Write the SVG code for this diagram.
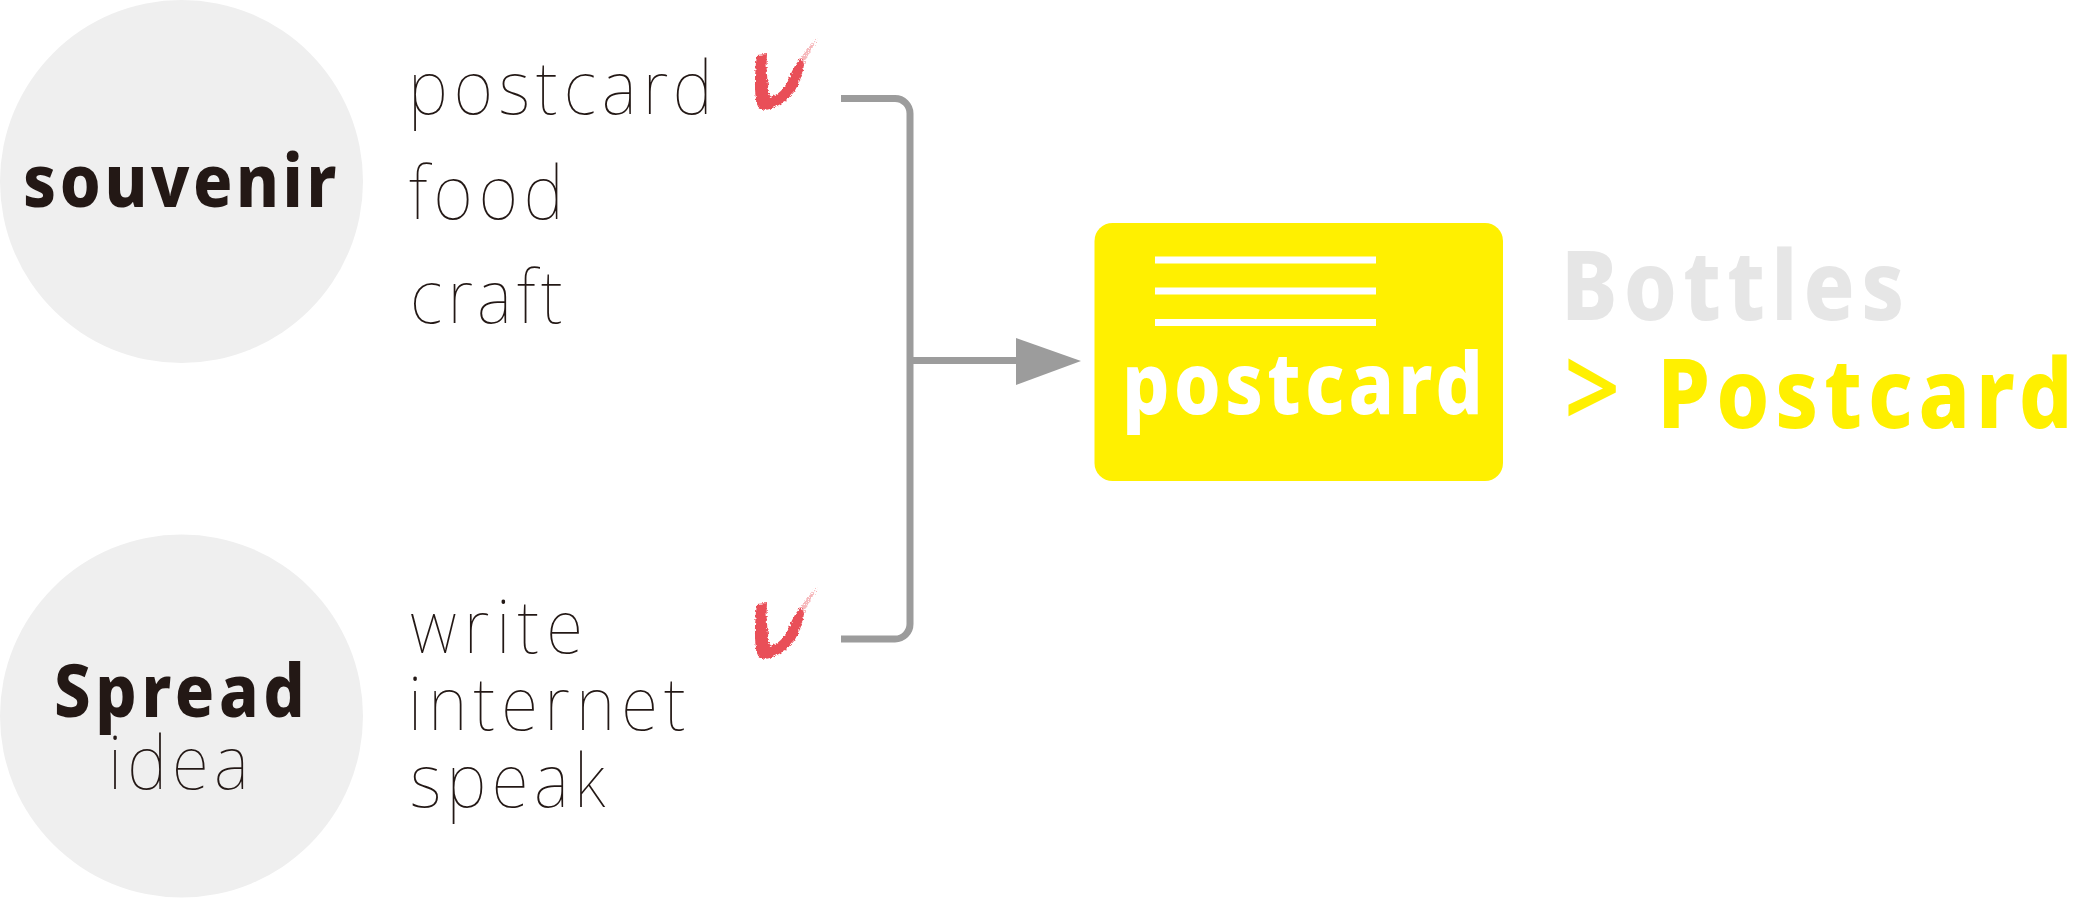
<svg xmlns="http://www.w3.org/2000/svg" width="2082" height="898" viewBox="0 0 2082 898">
<style>
.c{fill:#efefef}
text{font-family:"Noto Sans","Open Sans","Liberation Sans",sans-serif}
.l{font-size:74px;font-weight:100;fill:#231815}
.b{font-size:74px;font-weight:800;fill:#231815}
.h{font-size:96px;font-weight:800}
.w{fill:#fff}
.conn{fill:none;stroke:#9c9c9c;stroke-width:7}
</style>
<defs>
<filter id="rough" x="-20%" y="-20%" width="140%" height="140%">
<feTurbulence type="fractalNoise" baseFrequency="0.4" numOctaves="2" seed="4"/>
<feDisplacementMap in="SourceGraphic" scale="4" xChannelSelector="R" yChannelSelector="G"/>
</filter>
<filter id="dry" x="-30%" y="-30%" width="160%" height="160%">
<feTurbulence type="fractalNoise" baseFrequency="0.6" numOctaves="2" seed="7"/>
<feDisplacementMap in="SourceGraphic" scale="8" xChannelSelector="R" yChannelSelector="G"/>
</filter>
<g id="tick">
<path d="M757 55 L767 54 C766 68 767 84 770 97 C778 95 784 89 788 81 C791 73 795 64 801 58 L804 64 C803 74 799 84 794 92 C787 101 776 108 766 110 C760 110 757 107 756 100 C754 85 755 70 757 55Z" fill="#e94f58" filter="url(#rough)"/>
<path d="M801 58 C806 50 812 43 818 38 C813 46 808 54 804 64Z" fill="#e94f58" opacity=".4" filter="url(#dry)"/>
</g>
</defs>
<g id="node-souvenir">
<circle class="c" cx="181.500" cy="181.500" r="181.500"/>
<text class="b" transform="translate(23 207) scale(.88 1)" textLength="356">souvenir</text>
</g>
<g id="node-spread">
<circle class="c" cx="181.500" cy="716" r="181.500"/>
<text class="b" transform="translate(54 717) scale(.88 1)" textLength="285">Spread</text>
<text class="l" transform="translate(108 789) scale(.92 1)" textLength="153">idea</text>
</g>
<g id="list-souvenir">
<text class="l" transform="translate(408 114) scale(.92 1)" textLength="331">postcard</text>
<text class="l" transform="translate(409 219) scale(.92 1)" textLength="168">food</text>
<text class="l" transform="translate(410 323) scale(.92 1)" textLength="166">craft</text>
<use href="#tick"/>
</g>
<g id="list-spread">
<text class="l" transform="translate(410 653) scale(.92 1)" textLength="188">write</text>
<text class="l" transform="translate(408 730) scale(.92 1)" textLength="302">internet</text>
<text class="l" transform="translate(410 807) scale(.92 1)" textLength="212">speak</text>
<use href="#tick" y="549"/>
</g>
<g id="connectors">
<path class="conn" d="M841 98.500H895a15 15 0 0 1 15 15V624a15 15 0 0 1-15 15H841"/>
<path class="conn" d="M910 360.500H1020"/>
<polygon points="1016,338 1081,361 1016,385" fill="#9c9c9c"/>
</g>
<g id="node-postcard">
<rect x="1094.500" y="223" width="408.500" height="258" rx="18" fill="#fff000"/>
<rect class="w" x="1155" y="256.500" width="221" height="7"/>
<rect class="w" x="1155" y="287.500" width="221" height="7"/>
<rect class="w" x="1155" y="319" width="221" height="7"/>
<text class="w" transform="translate(1122 414) scale(.88 1)" font-size="85" font-weight="800" textLength="410">postcard</text>
</g>
<g id="result">
<text class="h" transform="translate(1561 320) scale(.88 1)" fill="#e6e6e6" textLength="390">Bottles</text>
<text class="h" transform="translate(1564 428) scale(.88 1)" fill="#fff000"><tspan x="0" font-size="112" font-weight="600">&gt;</tspan><tspan x="106" textLength="472">Postcard</tspan></text>
</g>
</svg>
